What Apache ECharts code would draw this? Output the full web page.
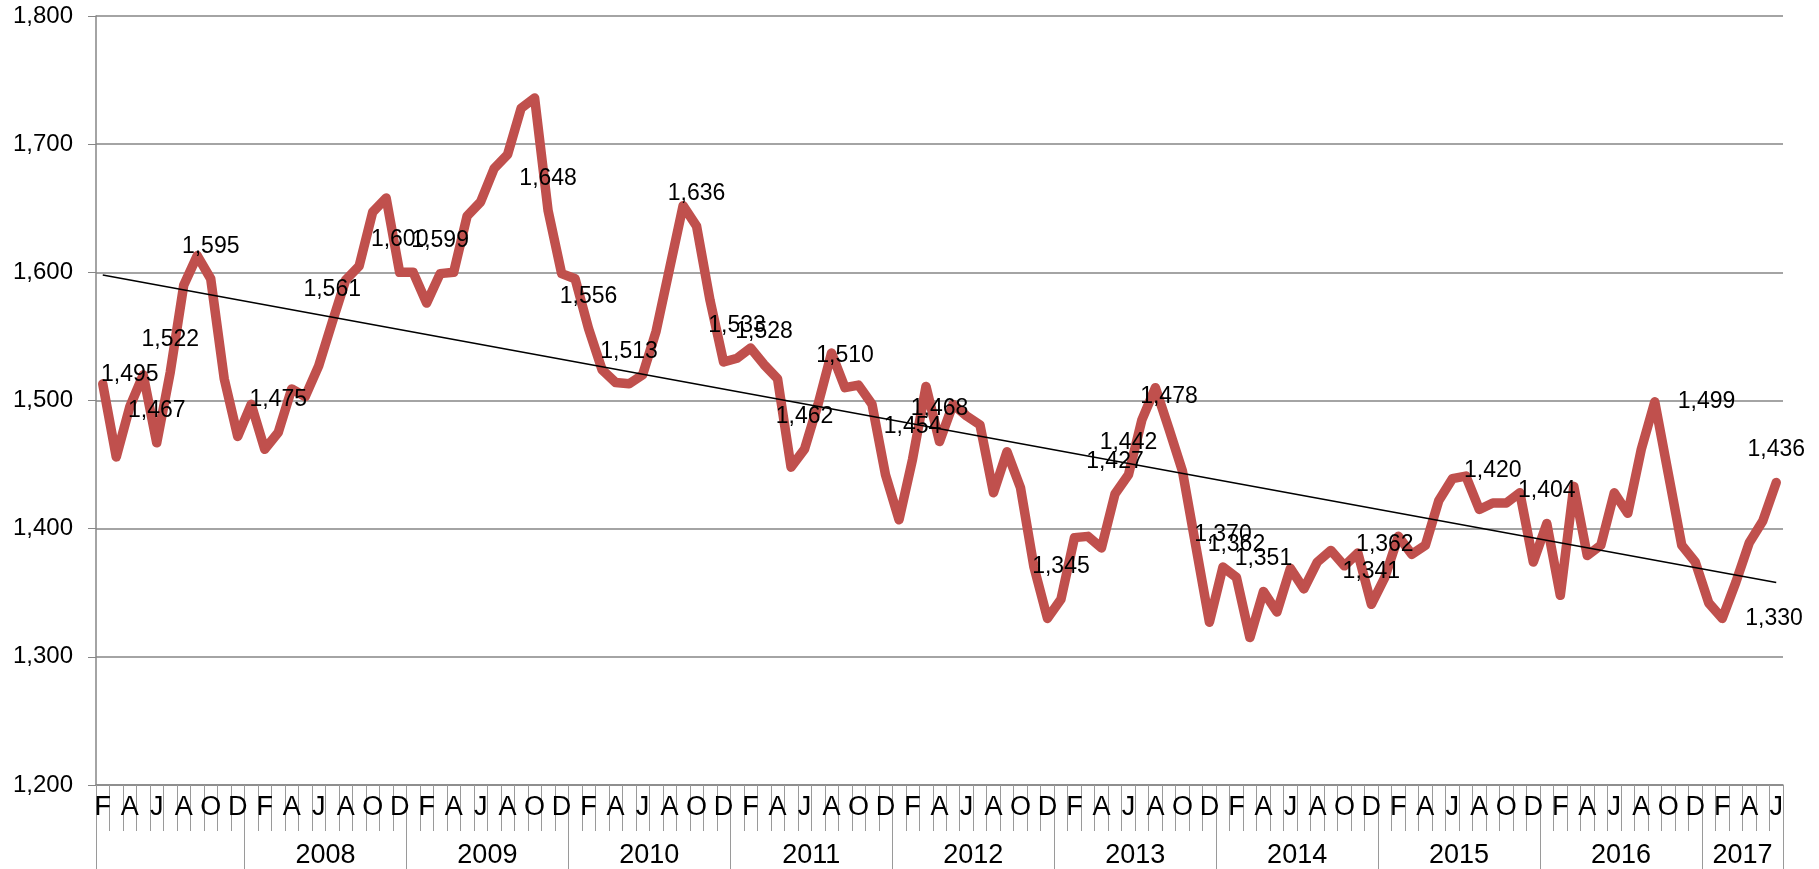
<!DOCTYPE html>
<html><head><meta charset="utf-8">
<script src="https://cdn.jsdelivr.net/npm/echarts@6/dist/echarts.min.js"></script>
<style>html,body{margin:0;padding:0;background:#fff}#c{width:1819px;height:869px}</style>
</head><body><div id="c"></div>
<script>
// ---- data ----
const monthLetters = ['J','F','M','A','M','J','J','A','S','O','N','D'];
const yearLabels = ['', '2008', '2009', '2010', '2011', '2012', '2013', '2014', '2015', '2016', '2017'];
const firstMonthIndex = 1; // series starts in February of the first group
const values2007 = [1513, 1456, 1495, 1520, 1467, 1522, 1590, 1613, 1595, 1517, 1472];
const values2008 = [1497, 1462, 1475, 1509, 1503, 1527, 1561, 1594, 1605, 1647, 1658, 1600];
const values2009 = [1600, 1576, 1599, 1600, 1644, 1655, 1681, 1692, 1728, 1736, 1648, 1599];
const values2010 = [1595, 1556, 1524, 1514, 1513, 1520, 1554, 1603, 1652, 1636, 1578, 1530];
const values2011 = [1533, 1541, 1528, 1517, 1448, 1462, 1497, 1537, 1510, 1512, 1497, 1442];
const values2012 = [1407, 1454, 1511, 1468, 1497, 1488, 1481, 1428, 1460, 1432, 1370, 1330];
const values2013 = [1345, 1393, 1394, 1385, 1427, 1442, 1485, 1510, 1478, 1445, 1386, 1327];
const values2014 = [1370, 1362, 1315, 1351, 1335, 1369, 1353, 1374, 1383, 1371, 1381, 1341];
const values2015 = [1362, 1394, 1380, 1387, 1422, 1439, 1441, 1415, 1420, 1420, 1428, 1374];
const values2016 = [1404, 1348, 1433, 1379, 1387, 1428, 1412, 1462, 1499, 1443, 1387, 1374];
const values2017 = [1342, 1330, 1358, 1389, 1406, 1436];
const yearGroups = [values2007, values2008, values2009, values2010, values2011, values2012,
                    values2013, values2014, values2015, values2016, values2017];
// points that carry a data label (index in the full series)
const labeledPoints = [2, 4, 5, 8, 13, 17, 22, 25, 33, 36, 39, 44, 47, 49, 52, 55, 60, 62,
                       71, 75, 76, 79, 83, 84, 86, 94, 95, 103, 107, 115, 120, 124];
const rightLabeledPoints = [115, 120];
const trendStartValue = 1598;
const trendEndValue = 1358;
const yMin = 1200, yMax = 1800, yStep = 100;

// ---- build axis data ----
const values = [];
const monthCats = [];
const yearCats = [];
const yearTickIdx = new Set();
const yearLabelIdx = new Set();
yearGroups.forEach((g, gi) => {
  const start = values.length;
  yearTickIdx.add(start);
  g.forEach((v, k) => {
    const m = gi === 0 ? firstMonthIndex + k : k;
    values.push(v);
    monthCats.push(monthLetters[m]);
    yearCats.push(yearLabels[gi]);
  });
  if (yearLabels[gi]) yearLabelIdx.add(start + Math.floor(g.length / 2));
});
const lastIdx = values.length - 1;

const FONT = 'Liberation Sans, Arial, sans-serif';
const GRAY = '#868686';
const bandHalf = (1819 - 96 - 36) / values.length / 2;

const seriesData = values.map((v, i) => {
  if (!labeledPoints.includes(i)) return v;
  const right = rightLabeledPoints.includes(i);
  return { value: v, label: { show: true, position: right ? 'right' : 'top', distance: right ? 22 : 20 } };
});

const chart = echarts.init(document.getElementById('c'), null, { renderer: 'canvas' });
chart.setOption({
  animation: false,
  backgroundColor: '#fff',
  grid: { left: 96, right: 36, top: 16, bottom: 82, containLabel: false },
  xAxis: [
    {
      type: 'category', data: monthCats, boundaryGap: true, position: 'bottom',
      axisLine: { show: true, lineStyle: { color: GRAY, width: 1.5 } },
      axisTick: { show: true, interval: 0, length: 46, lineStyle: { color: '#9a9a9a', width: 1 } },
      axisLabel: { interval: 1, fontSize: 27, color: '#000', fontFamily: FONT, margin: 9 },
      splitLine: { show: false }
    },
    {
      type: 'category', data: yearCats, boundaryGap: true, position: 'bottom',
      axisLine: { show: false },
      axisTick: { show: true, interval: (i) => yearTickIdx.has(i), length: 86, lineStyle: { color: '#9a9a9a', width: 1 } },
      axisLabel: { interval: (i) => yearLabelIdx.has(i), fontSize: 27, color: '#000', fontFamily: FONT,
                   margin: 57, padding: [0, bandHalf * 2, 0, 0] },
      splitLine: { show: false }
    }
  ],
  yAxis: {
    type: 'value', min: yMin, max: yMax, interval: yStep,
    axisLine: { show: true, lineStyle: { color: GRAY, width: 1.5 } },
    axisTick: { show: true, length: 8, lineStyle: { color: GRAY } },
    axisLabel: { margin: 23, fontSize: 24, color: '#000', fontFamily: FONT,
                 formatter: (v) => v.toLocaleString('en-US') },
    splitLine: { show: true, lineStyle: { color: GRAY, width: 1.5 } }
  },
  series: [
    {
      type: 'line', data: seriesData, xAxisIndex: 0,
      symbol: 'circle', symbolSize: 2, showSymbol: true,
      itemStyle: { color: '#C0504D' },
      lineStyle: { color: '#C0504D', width: 9.5, join: 'round', cap: 'round' },
      label: { show: false, color: '#000', fontSize: 23, fontFamily: FONT,
               formatter: (p) => p.value.toLocaleString('en-US') },
      emphasis: { disabled: true },
      z: 2
    },
    {
      type: 'line', xAxisIndex: 0,
      data: [[0, trendStartValue], [lastIdx, trendEndValue]],
      symbol: 'none', lineStyle: { color: '#000', width: 1.5 },
      emphasis: { disabled: true },
      z: 3
    }
  ]
});
</script></body></html>
